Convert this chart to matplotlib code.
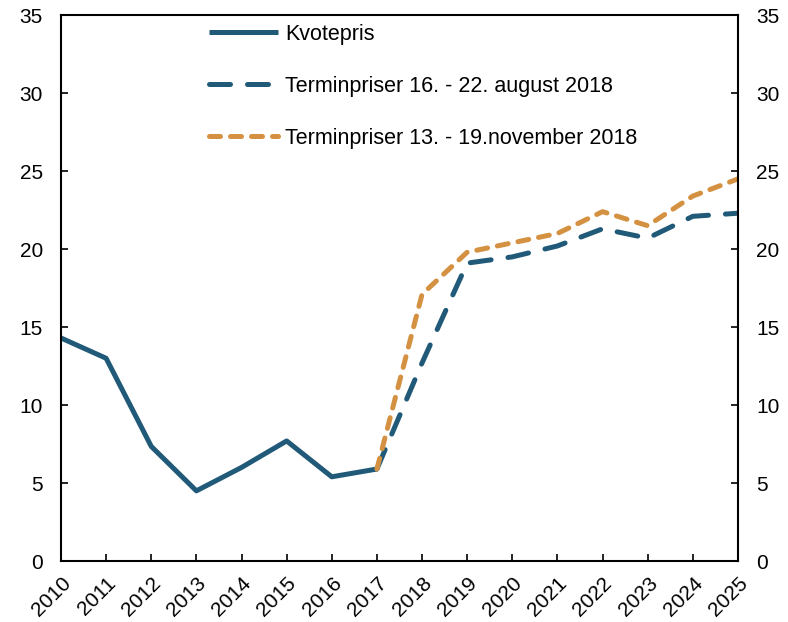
import numpy as np
import matplotlib.pyplot as plt

plt.rcParams['font.family'] = ['Liberation Sans', 'DejaVu Sans']

# Kvotepris (realised)
years_hist = [2010, 2011, 2012, 2013, 2014, 2015, 2016, 2017]
kvotepris = [14.3, 13.0, 7.35, 4.5, 6.0, 7.7, 5.4, 5.9]

# forward prices
years_fwd = [2017, 2018, 2019, 2020, 2021, 2022, 2023, 2024, 2025]
termin_aug = [5.9, 12.7, 19.1, 19.5, 20.2, 21.3, 20.7, 22.1, 22.3]
termin_nov = [5.9, 17.1, 19.8, 20.4, 21.0, 22.4, 21.5, 23.4, 24.5]

blue = '#215a78'
orange = '#d49142'

fig = plt.figure(figsize=(7.88, 6.22), dpi=100)
ax = fig.add_axes([0.0774, 0.098, 0.8591, 0.8777])

ax.plot(years_hist, kvotepris, color=blue, lw=3.6, solid_capstyle='butt',
        label='Kvotepris')
ax.plot(years_fwd, termin_aug, color=blue, lw=3.6, dashes=(4.2, 3.4),
        dash_capstyle='round', label='Terminpriser 16. - 22. august 2018')
ax.plot(years_fwd, termin_nov, color=orange, lw=3.6, dashes=(2.2, 2.0),
        dash_capstyle='round', label='Terminpriser 13. - 19.november 2018')

ax.set_xlim(2010, 2025)
ax.set_ylim(0, 35)
ax.set_xticks(np.arange(2010, 2026))
ax.set_xticklabels([str(y) for y in range(2010, 2026)], rotation=45,
                   ha='right', rotation_mode='anchor')
ax.set_yticks(np.arange(0, 36, 5))
ax.tick_params(axis='both', direction='in', length=5, width=1.2,
               labelsize=15, colors='black')
ax.tick_params(axis='y', left=True, right=True, labelleft=True,
               labelright=True, pad=13)
ax.tick_params(axis='x', pad=9)
for s in ax.spines.values():
    s.set_linewidth(1.5)

ax.legend(loc='upper left', bbox_to_anchor=(0.19, 1.02), frameon=False,
          fontsize=15.5, handlelength=3.2, labelspacing=1.45,
          handletextpad=0.35)

fig.savefig('out.png', dpi=100)
